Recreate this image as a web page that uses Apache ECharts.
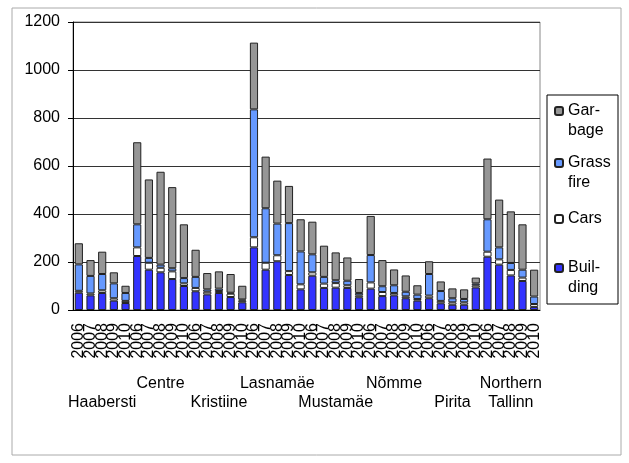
<!DOCTYPE html>
<html>
<head>
<meta charset="utf-8">
<script src="https://cdn.jsdelivr.net/npm/echarts@6/dist/echarts.min.js"></script>
<style>
  html, body { margin: 0; padding: 0; background: #fff; }
  #mychart { width: 629px; height: 463px; }
</style>
</head>
<body>
<div id="mychart"></div>
<script>
// districts and years (two-level category axis)
const districts = ['Haabersti', 'Centre', 'Kristiine', 'Lasnamäe', 'Mustamäe', 'Nõmme', 'Pirita', 'Northern\nTallinn']
const years = ['2006', '2007', '2008', '2009', '2010']
const yTicks = [0, 200, 400, 600, 800, 1000, 1200]

// values per district, 2006..2010
const building = [72, 61, 71, 39, 29, 225, 168, 157, 129, 100, 78, 65, 71, 54, 32, 261, 168, 203, 146, 86,
  143, 92, 93, 92, 53, 89, 58, 61, 49, 39, 49, 28, 22, 22, 94, 222, 189, 144, 121, 13]
const cars = [8, 8, 11, 10, 9, 36, 29, 19, 32, 11, 14, 11, 8, 14, 7, 42, 29, 25, 16, 21,
  14, 18, 19, 11, 8, 26, 17, 10, 8, 7, 11, 10, 10, 10, 9, 21, 22, 23, 14, 12]
const grassFire = [110, 73, 68, 62, 33, 96, 20, 13, 13, 22, 46, 10, 10, 4, 5, 533, 227, 132, 200, 137,
  75, 28, 12, 19, 10, 114, 24, 32, 19, 18, 90, 41, 17, 14, 8, 135, 50, 29, 33, 31]
const garbage = [88, 66, 93, 46, 30, 342, 327, 387, 338, 224, 113, 68, 72, 78, 57, 278, 215, 179, 155, 134,
  136, 130, 116, 97, 58, 163, 109, 66, 68, 39, 53, 40, 41, 40, 24, 253, 199, 215, 189, 112]

const font = 'Liberation Sans, Arial, sans-serif'
const yearCats = []
districts.forEach(() => years.forEach(y => yearCats.push(y)))

const chart = echarts.init(document.getElementById('mychart'))

// one legend per entry so each can sit where the original has it
function legendAt(name, label, top) {
  return {
    data: [name],
    left: 554,
    top: top,
    padding: 0,
    itemWidth: 8,
    itemHeight: 8,
    selectedMode: false,
    formatter: () => label,
    textStyle: { fontFamily: font, fontSize: 16, lineHeight: 20, color: '#000' }
  }
}

const bar = (name, data, color) => ({
  name: name,
  type: 'bar',
  stack: 'all',
  data: data,
  barCategoryGap: '30%',
  itemStyle: { color: color, borderColor: '#222', borderWidth: 1 }
})

const option = {
  animation: false,
  graphic: [
    { type: 'rect', z: -10, shape: { x: 12, y: 8, width: 609, height: 447 },
      style: { fill: '#fff', stroke: '#aaa', lineWidth: 1 } },
    { type: 'rect', z: -5, shape: { x: 547, y: 95, width: 71, height: 209 },
      style: { fill: '#fff', stroke: '#000', lineWidth: 1 } }
  ],
  legend: [
    legendAt('Garbage', ' \nGar-\nbage', 81),
    legendAt('Grass fire', ' \nGrass\nfire', 133),
    legendAt('Cars', 'Cars', 209),
    legendAt('Building', ' \nBuil-\nding', 238)
  ],
  grid: { left: 73, right: 89, top: 22, bottom: 153, show: true, borderColor: '#888', borderWidth: 1 },
  xAxis: [
    {
      type: 'category',
      data: yearCats,
      axisLine: { lineStyle: { color: '#000' } },
      axisTick: { length: 12, interval: 0, lineStyle: { color: '#000' } },
      axisLabel: { interval: 0, rotate: 90, margin: 13, fontFamily: font, fontSize: 16, color: '#000' }
    },
    {
      type: 'category',
      data: districts.map((d, i) => (i % 2 === 0 ? ' \n' + d : d)),
      position: 'bottom',
      axisLine: { show: false },
      axisTick: { length: 125, interval: 0, lineStyle: { color: '#000' } },
      axisLabel: { interval: 0, margin: 64, fontFamily: font, fontSize: 16, lineHeight: 19, color: '#000' }
    }
  ],
  yAxis: {
    type: 'value',
    min: yTicks[0],
    max: yTicks[yTicks.length - 1],
    interval: 200,
    axisLine: { show: true, lineStyle: { color: '#000' } },
    axisTick: { show: true, length: 5, lineStyle: { color: '#000' } },
    axisLabel: { margin: 13, fontFamily: font, fontSize: 16, color: '#000', formatter: v => String(v) },
    splitLine: { lineStyle: { color: '#333' } }
  },
  series: [
    bar('Building', building, '#3333ff'),
    bar('Cars', cars, '#ffffff'),
    bar('Grass fire', grassFire, '#6699ff'),
    bar('Garbage', garbage, '#969696')
  ]
}

chart.setOption(option)
</script>
</body>
</html>
